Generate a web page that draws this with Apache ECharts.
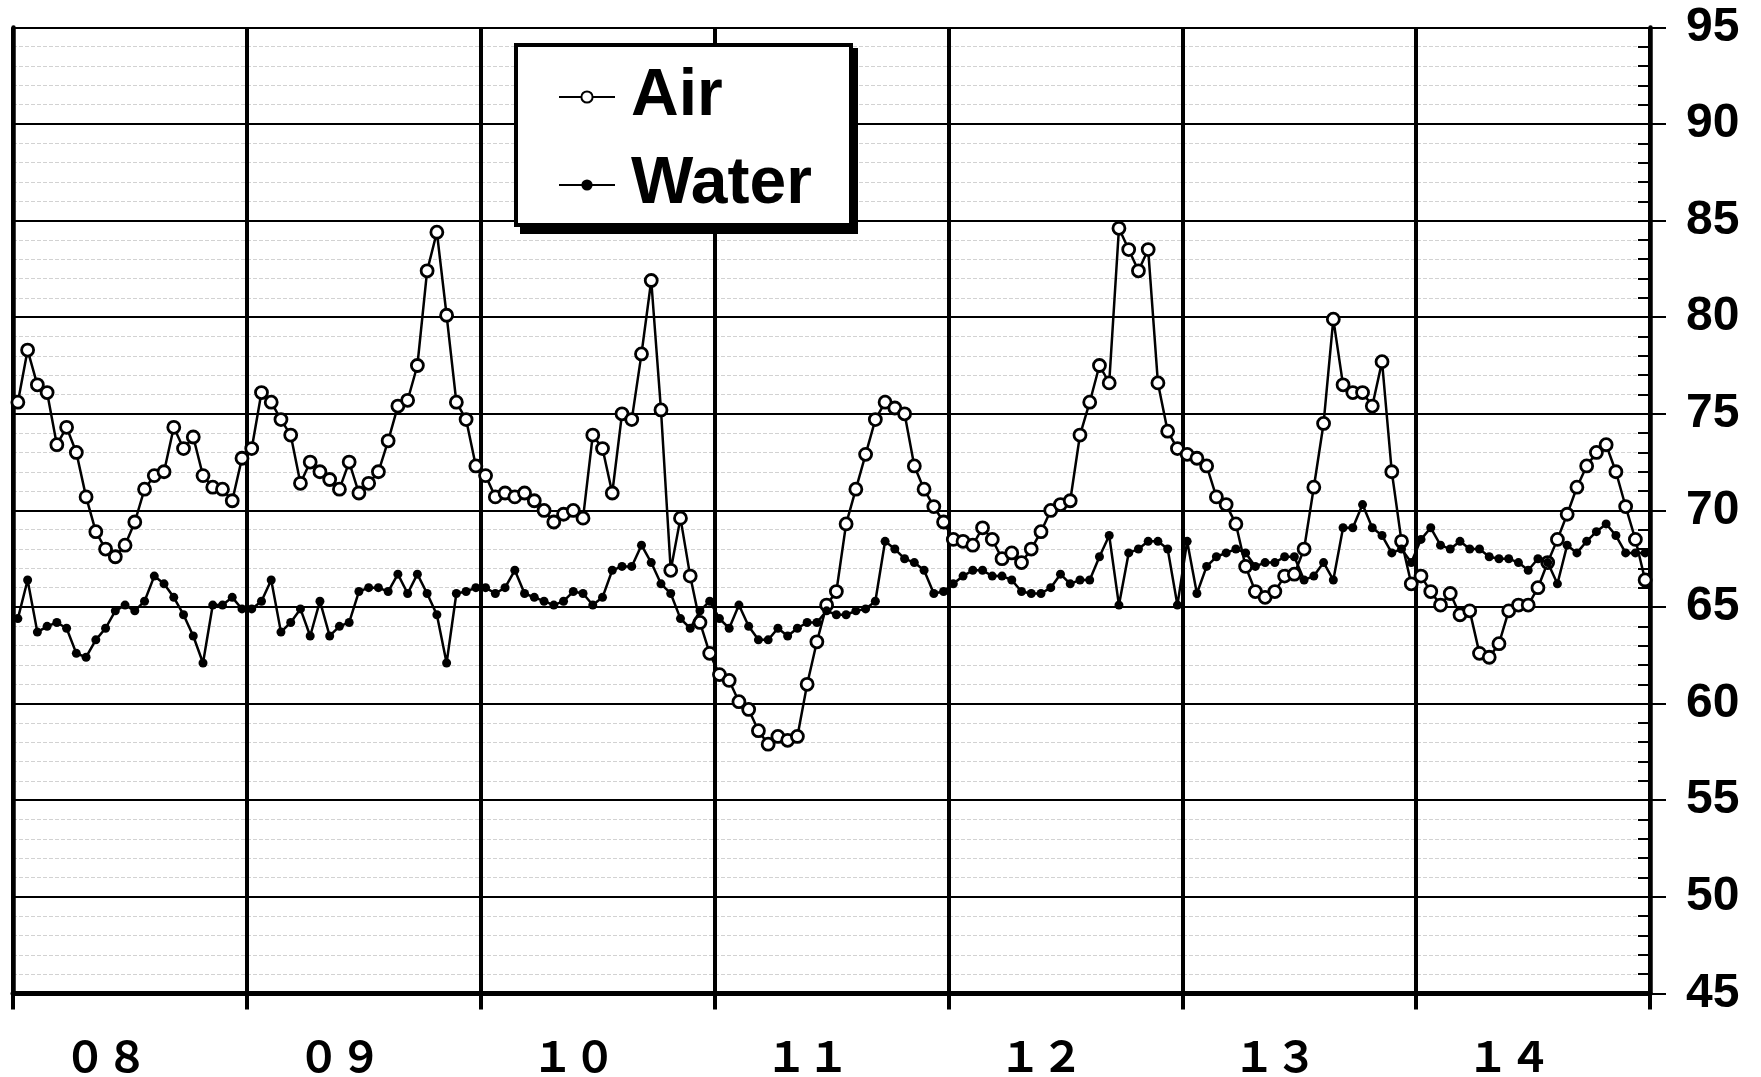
<!DOCTYPE html>
<html>
<head>
<meta charset="utf-8">
<script src="https://cdn.jsdelivr.net/npm/echarts@6/dist/echarts.min.js"></script>
<style>
html,body{margin:0;padding:0;background:#fff;}
#chart{width:1761px;height:1077px;}
</style>
</head>
<body>
<div id="chart"></div>
<script>
// ---- data ----
const years = ['08', '09', '10', '11', '12', '13', '14'];
const yearLabels = ['０８', '０９', '１０', '１１', '１２', '１３', '１４'];
const periodsPerYear = 24;

const air08 = [75.6,78.3,76.5,76.1,73.4,74.3,73.0,70.7,68.9,68.0,67.6,68.2,69.4,71.1,71.8,72.0,74.3,73.2,73.8,71.8,71.2,71.1,70.5,72.7];
const air09 = [73.2,76.1,75.6,74.7,73.9,71.4,72.5,72.0,71.6,71.1,72.5,70.9,71.4,72.0,73.6,75.4,75.7,77.5,82.4,84.4,80.1,75.6,74.7,72.3];
const air10 = [71.8,70.7,70.9,70.7,70.9,70.5,70.0,69.4,69.8,70.0,69.6,73.9,73.2,70.9,75.0,74.7,78.1,81.9,75.2,66.9,69.6,66.6,64.2,62.6];
const air11 = [61.5,61.2,60.1,59.7,58.6,57.9,58.3,58.1,58.3,61.0,63.2,65.1,65.8,69.3,71.1,72.9,74.7,75.6,75.3,75.0,72.3,71.1,70.2,69.4];
const air12 = [68.5,68.4,68.2,69.1,68.5,67.5,67.8,67.3,68.0,68.9,70.0,70.3,70.5,73.9,75.6,77.5,76.6,84.6,83.5,82.4,83.5,76.6,74.1,73.2];
const air13 = [72.9,72.7,72.3,70.7,70.3,69.3,67.1,65.8,65.5,65.8,66.6,66.7,68.0,71.2,74.5,79.9,76.5,76.1,76.1,75.4,77.7,72.0,68.4,66.2];
const air14 = [66.6,65.8,65.1,65.7,64.6,64.8,62.6,62.4,63.1,64.8,65.1,65.1,66.0,67.3,68.5,69.8,71.2,72.3,73.0,73.4,72.0,70.2,68.5,66.4];

const water08 = [64.4,66.4,63.7,64.0,64.2,63.9,62.6,62.4,63.3,63.9,64.8,65.1,64.8,65.3,66.6,66.2,65.5,64.6,63.5,62.1,65.1,65.1,65.5,64.9];
const water09 = [64.9,65.3,66.4,63.7,64.2,64.9,63.5,65.3,63.5,64.0,64.2,65.8,66.0,66.0,65.8,66.7,65.7,66.7,65.7,64.6,62.1,65.7,65.8,66.0];
const water10 = [66.0,65.7,66.0,66.9,65.7,65.5,65.3,65.1,65.3,65.8,65.7,65.1,65.5,66.9,67.1,67.1,68.2,67.3,66.2,65.7,64.4,63.9,64.8,65.3];
const water11 = [64.4,63.9,65.1,64.0,63.3,63.3,63.9,63.5,63.9,64.2,64.2,64.8,64.6,64.6,64.8,64.9,65.3,68.4,68.0,67.5,67.3,66.9,65.7,65.8];
const water12 = [66.2,66.6,66.9,66.9,66.6,66.6,66.4,65.8,65.7,65.7,66.0,66.7,66.2,66.4,66.4,67.6,68.7,65.1,67.8,68.0,68.4,68.4,68.0,65.1];
const water13 = [68.4,65.7,67.1,67.6,67.8,68.0,67.8,67.1,67.3,67.3,67.6,67.6,66.4,66.6,67.3,66.4,69.1,69.1,70.3,69.1,68.7,67.8,68.0,67.3];
const water14 = [68.5,69.1,68.2,68.0,68.4,68.0,68.0,67.6,67.5,67.5,67.3,66.9,67.5,67.3,66.2,68.2,67.8,68.4,68.9,69.3,68.7,67.8,67.8,67.8];

const yTicks = [45, 50, 55, 60, 65, 70, 75, 80, 85, 90, 95];

// ---- build ----
const air = [].concat(air08, air09, air10, air11, air12, air13, air14);
const water = [].concat(water08, water09, water10, water11, water12, water13, water14);
const categories = [];
years.forEach(y => { for (let i = 1; i <= periodsPerYear; i++) categories.push(y + '-' + i); });

const chart = echarts.init(document.getElementById('chart'), null, {renderer: 'canvas'});
const option = {
  animation: false,
  backgroundColor: '#fff',
  grid: {left: 13, right: 111, top: 27.4, bottom: 83.6, containLabel: false, outerBoundsMode: 'none'},
  legend: {
    orient: 'vertical', left: 558, top: 62, padding: 0, itemWidth: 56, itemHeight: 14, itemGap: 18,
    selectedMode: false, z: 10,
    data: ['Air', 'Water'],
    textStyle: {fontFamily: 'Liberation Sans', fontWeight: 'bold', fontSize: 66, color: '#000', lineHeight: 70, padding: [0, 0, 0, 11]}
  },
  graphic: {
    elements: [
      {type: 'rect', z: 5, shape: {x: 520, y: 48, width: 338, height: 186}, style: {fill: '#000'}},
      {type: 'rect', z: 6, shape: {x: 516, y: 45, width: 335, height: 180}, style: {fill: '#fff', stroke: '#000', lineWidth: 4}}
    ]
  },
  xAxis: [
    {
      type: 'category', data: categories, boundaryGap: true,
      axisLine: {show: true, onZero: false, lineStyle: {color: '#000', width: 5}},
      axisTick: {show: true, interval: periodsPerYear - 1, length: 16, lineStyle: {color: '#000', width: 4}},
      axisLabel: {show: false},
      splitLine: {show: true, interval: periodsPerYear - 1, lineStyle: {color: '#000', width: 4}}
    },
    {
      type: 'category', data: yearLabels, boundaryGap: true, position: 'bottom',
      axisLine: {show: false, onZero: false}, axisTick: {show: false}, splitLine: {show: false},
      axisLabel: {show: true, margin: 42, padding: [0, 48, 0, 0], fontFamily: 'Noto Sans CJK JP', fontWeight: 'bold', fontSize: 42, color: '#000'}
    }
  ],
  yAxis: [
    {
      type: 'value', position: 'right', min: yTicks[0], max: yTicks[yTicks.length - 1], interval: 5,
      axisLine: {show: true, lineStyle: {color: '#000', width: 4.5}},
      axisTick: {show: true, inside: false, length: 16, lineStyle: {color: '#000', width: 2}},
      minorTick: {show: false, splitNumber: 5},
      axisLabel: {margin: 36, color: '#000', fontFamily: 'Liberation Sans', fontWeight: 'bold', fontSize: 48},
      splitLine: {show: true, lineStyle: {color: '#000', width: 2}},
      minorSplitLine: {show: true, lineStyle: {color: '#d2d2d2', width: 1, type: [4, 2]}}
    },
    {
      type: 'value', position: 'right', min: yTicks[0], max: yTicks[yTicks.length - 1], interval: 5,
      axisLine: {show: false}, axisTick: {show: false, inside: true},
      minorTick: {show: true, splitNumber: 5, length: 12, lineStyle: {color: '#000', width: 2}},
      axisLabel: {show: false}, splitLine: {show: false}
    },
    {
      type: 'value', position: 'left', min: yTicks[0], max: yTicks[yTicks.length - 1], interval: 5,
      axisLine: {show: true, lineStyle: {color: '#000', width: 4.5}},
      axisTick: {show: false}, axisLabel: {show: false}, splitLine: {show: false}
    }
  ],
  series: [
    {
      name: 'Air', type: 'line', data: air, xAxisIndex: 0, yAxisIndex: 0,
      symbol: 'circle', symbolSize: 12, showAllSymbol: true, z: 3,
      itemStyle: {color: '#fff', borderColor: '#000', borderWidth: 2.8},
      lineStyle: {color: '#000', width: 2.5}
    },
    {
      name: 'Water', type: 'line', data: water, xAxisIndex: 0, yAxisIndex: 0,
      symbol: 'circle', symbolSize: 9, showAllSymbol: true, z: 4,
      itemStyle: {color: '#000', borderColor: '#000', borderWidth: 0},
      lineStyle: {color: '#000', width: 2.5}
    }
  ]
};
chart.setOption(option);
</script>
</body>
</html>
